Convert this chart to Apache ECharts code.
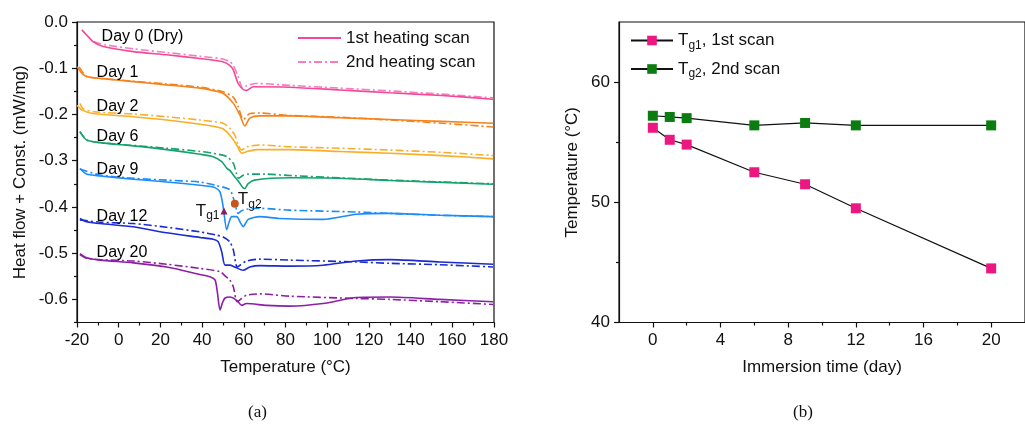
<!DOCTYPE html>
<html>
<head>
<meta charset="utf-8">
<script src="https://cdn.jsdelivr.net/npm/echarts@6/dist/echarts.min.js"></script>
<style>
  html, body { margin: 0; padding: 0; background: #ffffff; }
  #chart { width: 1025px; height: 429px; }
</style>
</head>
<body>
<div id="chart"></div>
<script>
// DSC heat-flow curves, each point is [temperature (°C), heat flow + const. (mW/mg)]
const day0First = [[-17.7,-0.017],[-15.4,-0.028],[-12.2,-0.043],[-7.4,-0.053],[7,-0.064],[23,-0.071],[39,-0.079],[50,-0.086],[53.5,-0.095],[55,-0.104],[57.3,-0.133],[59.7,-0.146],[61.3,-0.148],[64.5,-0.140],[82,-0.141],[106,-0.147],[130,-0.153],[155,-0.159],[179.6,-0.167]];
const day0Second = [[-12,-0.042],[-7,-0.049],[7,-0.058],[23,-0.066],[39,-0.074],[50,-0.080],[53.3,-0.086],[55,-0.094],[57.3,-0.118],[58.9,-0.140],[59.5,-0.143],[61.3,-0.138],[66,-0.133],[82,-0.137],[106,-0.143],[130,-0.149],[155,-0.156],[179.6,-0.164]];
const day1First = [[-19.9,-0.097],[-18.5,-0.106],[-17.7,-0.111],[-15.4,-0.118],[-9,-0.122],[7,-0.129],[23,-0.136],[39,-0.143],[45,-0.148],[50,-0.154],[55,-0.176],[58.1,-0.201],[60.5,-0.225],[62.9,-0.208],[67.7,-0.203],[82,-0.203],[106,-0.207],[130,-0.211],[155,-0.215],[179.6,-0.219]];
const day1Second = [[-19,-0.097],[-18,-0.104],[-15.4,-0.118],[-9,-0.122],[7,-0.128],[23,-0.134],[39,-0.141],[50,-0.151],[55,-0.163],[57.3,-0.183],[59,-0.206],[59.7,-0.211],[62.9,-0.198],[67.7,-0.197],[82,-0.202],[106,-0.206],[130,-0.212],[155,-0.219],[179.6,-0.227]];
const day2First = [[-20,-0.180],[-17.7,-0.190],[-12.2,-0.198],[7,-0.205],[23,-0.212],[39,-0.221],[47,-0.227],[50,-0.231],[53.3,-0.245],[56.6,-0.266],[59,-0.284],[61,-0.281],[66,-0.276],[82,-0.276],[106,-0.280],[130,-0.284],[155,-0.289],[179.6,-0.296]];
const day2Second = [[-18.6,-0.176],[-17,-0.188],[-12.2,-0.194],[7,-0.199],[23,-0.205],[39,-0.212],[50,-0.219],[53.3,-0.230],[55.7,-0.245],[57.3,-0.266],[59,-0.277],[61.5,-0.270],[67.7,-0.266],[82,-0.270],[106,-0.273],[130,-0.277],[155,-0.282],[179.6,-0.289]];
const day6First = [[-18.6,-0.237],[-15.4,-0.255],[-9,-0.261],[7,-0.268],[23,-0.276],[39,-0.286],[45.3,-0.2915],[49.4,-0.302],[51.8,-0.316],[53.5,-0.322],[55,-0.331],[57.5,-0.345],[59.5,-0.358],[60.5,-0.360],[62,-0.350],[65,-0.342],[82,-0.337],[106,-0.338],[130,-0.343],[155,-0.347],[179.6,-0.351]];
const day6Second = [[-18.6,-0.237],[-15.4,-0.255],[-9,-0.261],[7,-0.267],[23,-0.273],[39,-0.280],[45.3,-0.284],[51.8,-0.291],[55,-0.306],[56.5,-0.328],[57.5,-0.338],[59.5,-0.332],[62,-0.329],[70,-0.329],[82,-0.332],[106,-0.337],[130,-0.342],[155,-0.346],[179.6,-0.350]];
const day9First = [[-18.6,-0.317],[-15.4,-0.329],[-9,-0.333],[7,-0.340],[23,-0.346],[39,-0.353],[45.3,-0.357],[48.5,-0.367],[50.1,-0.400],[51.8,-0.449],[53,-0.432],[54.2,-0.421],[56.6,-0.421],[58.5,-0.435],[59.7,-0.443],[62.1,-0.427],[67.7,-0.421],[77,-0.425],[98,-0.427],[114,-0.416],[130,-0.414],[154,-0.418],[179.6,-0.421]];
const day9Second = [[-18.6,-0.318],[-9,-0.331],[7,-0.338],[23,-0.342],[39,-0.346],[47,-0.354],[53.3,-0.363],[55.7,-0.392],[57.3,-0.414],[59,-0.408],[61.3,-0.405],[67.7,-0.403],[82,-0.407],[114,-0.411],[130,-0.414],[154,-0.418],[179.6,-0.421]];
const day12First = [[-18.6,-0.425],[-15.4,-0.432],[-9,-0.436],[7,-0.443],[23,-0.456],[39,-0.466],[45.3,-0.470],[47.7,-0.475],[49.4,-0.497],[51,-0.526],[53.3,-0.526],[55.7,-0.530],[59.7,-0.537],[62.9,-0.530],[67.7,-0.527],[82,-0.528],[98,-0.526],[114,-0.517],[130,-0.514],[154,-0.519],[179.6,-0.524]];
const day12Second = [[-18.6,-0.428],[-9,-0.433],[7,-0.436],[23,-0.444],[39,-0.454],[47,-0.461],[50.1,-0.465],[53.3,-0.4755],[55,-0.4935],[56.8,-0.530],[58.5,-0.525],[61.3,-0.517],[67.7,-0.513],[82,-0.515],[114,-0.519],[130,-0.522],[154,-0.525],[179.6,-0.530]];
const day20First = [[-18.6,-0.501],[-15.4,-0.510],[-9,-0.515],[7,-0.521],[23,-0.530],[39,-0.546],[43.8,-0.551],[46.2,-0.558],[47.3,-0.584],[48.6,-0.623],[49.8,-0.607],[51,-0.597],[53.3,-0.595],[56.6,-0.602],[59,-0.613],[61.3,-0.609],[71,-0.613],[82,-0.6145],[98,-0.609],[114,-0.596],[130,-0.595],[154,-0.600],[179.6,-0.605]];
const day20Second = [[-18.6,-0.503],[-15.4,-0.511],[-9,-0.514],[7,-0.517],[23,-0.524],[39,-0.533],[48.6,-0.540],[51,-0.549],[53.3,-0.558],[55,-0.573],[56.8,-0.605],[59,-0.598],[61.3,-0.591],[67.7,-0.588],[82,-0.593],[114,-0.598],[130,-0.600],[154,-0.605],[179.6,-0.611]];

const dayNames = ['Day 0 (Dry)', 'Day 1', 'Day 2', 'Day 6', 'Day 9', 'Day 12', 'Day 20'];
const dayLabelAnchors = [[-8.2,-0.032],[-10.6,-0.110],[-10.6,-0.182],[-10.6,-0.247],[-10.6,-0.320],[-10.6,-0.420],[-10.6,-0.499]];
const firstScans = [day0First, day1First, day2First, day6First, day9First, day12First, day20First];
const secondScans = [day0Second, day1Second, day2Second, day6Second, day9Second, day12Second, day20Second];

// Glass transition points marked on the Day 9 curves
const tg1Point = [50.5, -0.409];
const tg2Point = [55.7, -0.393];

// Glass transition temperature against immersion time
const immersionDays = [0, 1, 2, 6, 9, 12, 20];
const tg1Values = [56.2, 55.2, 54.8, 52.5, 51.5, 49.5, 44.5];
const tg2Values = [57.2, 57.1, 57.0, 56.4, 56.6, 56.4, 56.4];

// Tick positions
const heatFlowTicks = [-0.6, -0.5, -0.4, -0.3, -0.2, -0.1, 0.0];
const heatFlowMinorTicks = [-0.65, -0.55, -0.45, -0.35, -0.25, -0.15, -0.05];
const tempTicks = [-20, 0, 20, 40, 60, 80, 100, 120, 140, 160, 180];
const tempMinorTicks = [-10, 10, 30, 50, 70, 90, 110, 130, 150, 170];
const dayTicks = [0, 4, 8, 12, 16, 20];
const dayMinorTicks = [2, 6, 10, 14, 18];
const tgTicks = [40, 50, 60];
const tgMinorTicks = [45, 55];

const firstColors = ['#f4479a', '#f7821c', '#f9ae2a', '#14a36c', '#1c8cf8', '#1b2bd0', '#8c1fa6'];
const secondColors = ['#f77cbb', '#f7821c', '#f9ae2a', '#14a36c', '#1c8cf8', '#1b2bd0', '#8c1fa6'];

const FONT = "'Liberation Sans', Arial, sans-serif";
const black = '#111111';

function mainAxis(extra) {
  return Object.assign({
    type: 'value',
    axisLine: { show: true, onZero: false, lineStyle: { color: black, width: 1.2 } },
    axisTick: { show: true, inside: false, length: 5, lineStyle: { color: black, width: 1.2 } },
    axisLabel: { color: black, fontSize: 17, fontFamily: FONT, margin: 8 },
    splitLine: { show: false },
    nameTextStyle: { color: black, fontSize: 17, fontFamily: FONT },
    nameLocation: 'middle'
  }, extra);
}
function minorAxis(extra, ticks) {
  return Object.assign({
    type: 'value',
    axisLine: { show: false, onZero: false },
    axisTick: { show: true, length: 3, customValues: ticks, lineStyle: { color: black, width: 1.2 } },
    axisLabel: { show: false },
    splitLine: { show: false }
  }, extra);
}

const series = [];
for (let i = 0; i < firstScans.length; i++) {
  series.push({
    name: i === 0 ? '1st heating scan' : dayNames[i] + ' 1st',
    type: 'line', xAxisIndex: 0, yAxisIndex: 0,
    data: firstScans[i], symbol: 'none', smooth: 0.25,
    lineStyle: { color: firstColors[i], width: 1.6 },
    itemStyle: { color: firstColors[i] },
    z: 3
  });
  series.push({
    name: i === 0 ? '2nd heating scan' : dayNames[i] + ' 2nd',
    type: 'line', xAxisIndex: 0, yAxisIndex: 0,
    data: secondScans[i], symbol: 'none', smooth: 0.25,
    lineStyle: { color: secondColors[i], width: 1.6, type: [8, 3, 2, 3] },
    itemStyle: { color: secondColors[i] },
    z: 2
  });
}

// Curve labels
series.push({
  type: 'scatter', xAxisIndex: 0, yAxisIndex: 0, silent: true,
  symbolSize: 0,
  itemStyle: { opacity: 1 },
  data: dayLabelAnchors.map((p, i) => ({ value: p, name: dayNames[i] })),
  label: {
    show: true, position: 'right', distance: 0, opacity: 1,
    formatter: p => p.name,
    color: '#000000', fontSize: 16, fontFamily: FONT
  },
  z: 5
});

const subRich = {
  n: { fontSize: 17, fontFamily: FONT, color: black },
  s: { fontSize: 12, fontFamily: FONT, color: black, verticalAlign: 'bottom', padding: [10, 0, 0, 0] }
};

// Tg markers
series.push({
  type: 'scatter', xAxisIndex: 0, yAxisIndex: 0, silent: true,
  symbol: 'triangle', symbolSize: 7,
  itemStyle: { color: '#8b1c5e', opacity: 1 },
  data: [tg1Point],
  label: { show: true, position: 'left', distance: 1, opacity: 1, formatter: '{n|T}{s|g1}', rich: subRich },
  z: 6
});
series.push({
  type: 'scatter', xAxisIndex: 0, yAxisIndex: 0, silent: true,
  symbol: 'circle', symbolSize: 8,
  itemStyle: { color: '#c4571c', opacity: 1 },
  data: [tg2Point],
  label: { show: true, position: 'right', distance: 0, opacity: 1, offset: [-1, -4], formatter: '{n|T}{s|g2}', rich: subRich },
  z: 6
});

series.push({
  name: 'Tg1', type: 'line', xAxisIndex: 2, yAxisIndex: 2,
  data: immersionDays.map((d, i) => [d, tg1Values[i]]),
  symbol: 'rect', symbolSize: 10,
  lineStyle: { color: black, width: 1.2 },
  itemStyle: { color: '#ec1780' },
  z: 3
});
series.push({
  name: 'Tg2', type: 'line', xAxisIndex: 2, yAxisIndex: 2,
  data: immersionDays.map((d, i) => [d, tg2Values[i]]),
  symbol: 'rect', symbolSize: 10,
  lineStyle: { color: black, width: 1.2 },
  itemStyle: { color: '#0b7d10' },
  z: 3
});

const option = {
  animation: false,
  backgroundColor: '#ffffff',
  textStyle: { fontFamily: FONT },
  grid: [
    { left: 77, top: 22, width: 417, height: 300.5, show: true, borderColor: black, borderWidth: 1.2, containLabel: false },
    { left: 619, top: 22, width: 416.5, height: 300.5, show: true, borderColor: black, borderWidth: 1.2, containLabel: false }
  ],
  xAxis: [
    mainAxis({ gridIndex: 0, min: -20, max: 180, interval: 20, position: 'bottom',
      name: 'Temperature (°C)', nameGap: 36,
      axisTick: { show: true, length: 5, customValues: tempTicks, lineStyle: { color: black, width: 1.2 } },
      axisLabel: { color: black, fontSize: 17, fontFamily: FONT, margin: 9, customValues: tempTicks } }),
    minorAxis({ gridIndex: 0, min: -20, max: 180, position: 'bottom' }, tempMinorTicks),
    mainAxis({ gridIndex: 1, min: -2, max: 22, position: 'bottom',
      name: 'Immersion time (day)', nameGap: 36,
      axisTick: { show: true, length: 5, customValues: dayTicks, lineStyle: { color: black, width: 1.2 } },
      axisLabel: { color: black, fontSize: 17, fontFamily: FONT, margin: 9, customValues: dayTicks } }),
    minorAxis({ gridIndex: 1, min: -2, max: 22, position: 'bottom' }, dayMinorTicks)
  ],
  yAxis: [
    mainAxis({ gridIndex: 0, min: -0.65, max: 0, position: 'left',
      name: 'Heat flow + Const. (mW/mg)', nameGap: 48,
      axisTick: { show: true, length: 5, customValues: heatFlowTicks, lineStyle: { color: black, width: 1.2 } },
      axisLabel: { color: black, fontSize: 17, fontFamily: FONT, margin: 9, customValues: heatFlowTicks,
        formatter: v => v.toFixed(1) } }),
    minorAxis({ gridIndex: 0, min: -0.65, max: 0, position: 'left' }, heatFlowMinorTicks),
    mainAxis({ gridIndex: 1, min: 40, max: 65, position: 'left',
      name: 'Temperature (°C)', nameGap: 38,
      axisTick: { show: true, length: 5, customValues: tgTicks, lineStyle: { color: black, width: 1.2 } },
      axisLabel: { color: black, fontSize: 17, fontFamily: FONT, margin: 9, customValues: tgTicks } }),
    minorAxis({ gridIndex: 1, min: 40, max: 65, position: 'left' }, tgMinorTicks)
  ],
  legend: [
    {
      left: 292, top: 24.5, orient: 'vertical', itemGap: 7,
      itemWidth: 43, itemHeight: 14,
      itemStyle: { opacity: 0 },
      data: ['1st heating scan', '2nd heating scan'],
      textStyle: { color: black, fontSize: 17, fontFamily: FONT }
    },
    {
      left: 625, top: 27, orient: 'vertical', itemGap: 9,
      itemWidth: 42, itemHeight: 12,
      data: ['Tg1', 'Tg2'],
      formatter: name => name === 'Tg1' ? '{n|T}{s|g1}{n|, 1st scan}' : '{n|T}{s|g2}{n|, 2nd scan}',
      textStyle: { color: black, fontSize: 17, fontFamily: FONT, rich: subRich }
    }
  ],
  graphic: [
    { type: 'text', left: 248, top: 404, style: { text: '(a)', font: "17px 'Liberation Serif', serif", fill: black } },
    { type: 'text', left: 793, top: 404, style: { text: '(b)', font: "17px 'Liberation Serif', serif", fill: black } }
  ],
  series: series
};

const chart = echarts.init(document.getElementById('chart'), null, { renderer: 'canvas' });
chart.setOption(option);
</script>
</body>
</html>
